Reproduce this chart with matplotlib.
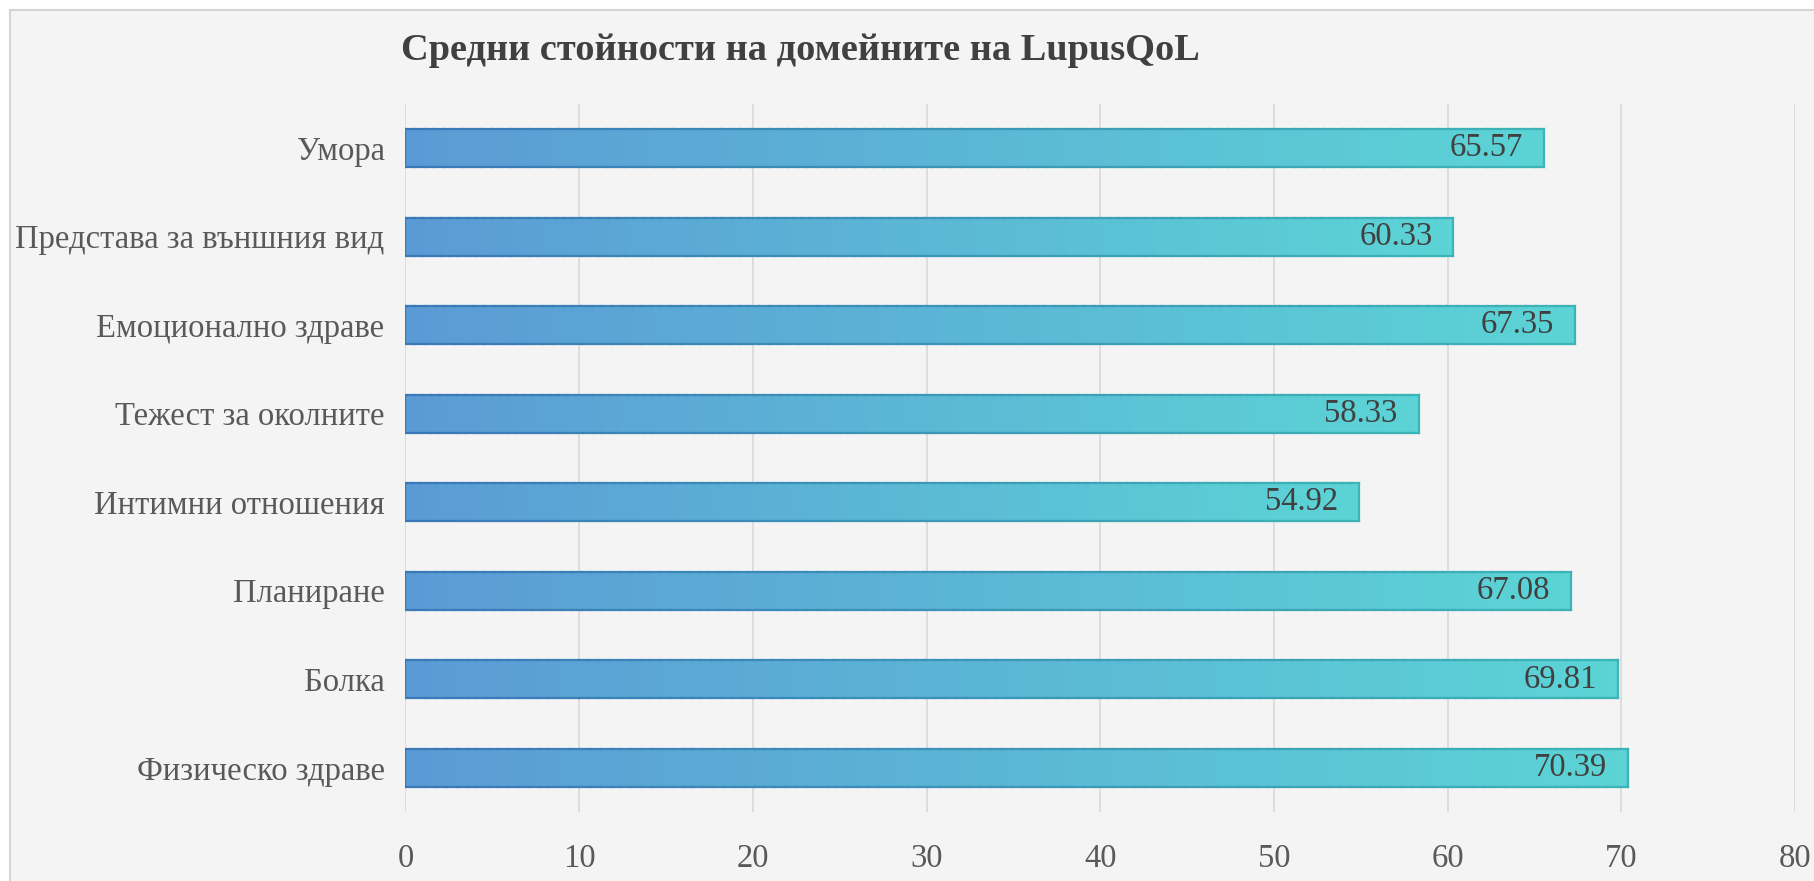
import numpy as np
import matplotlib.pyplot as plt
from matplotlib.colors import LinearSegmentedColormap
from matplotlib.collections import LineCollection
from matplotlib.patches import Rectangle

plt.rcParams['font.family'] = ['Liberation Serif', 'DejaVu Serif']

# LupusQoL domain means, bottom to top
domains = ["Физическо здраве", "Болка", "Планиране", "Интимни отношения",
           "Тежест за околните", "Емоционално здраве",
           "Представа за външния вид", "Умора"]
means = [70.39, 69.81, 67.08, 54.92, 58.33, 67.35, 60.33, 65.57]
xticks = [0, 10, 20, 30, 40, 50, 60, 70, 80]

title = "Средни стойности на домейните на LupusQoL"

# gradient fill and outline colours (left -> right)
fill_cmap = LinearSegmentedColormap.from_list("fill", ["#5b9bd5", "#5cd4d6"])
edge_cmap = LinearSegmentedColormap.from_list("edge", ["#3b78b8", "#3cb4b7"])
text_col = "#404040"
label_col = "#595959"
grid_col = "#d9d9d9"

fig = plt.figure(figsize=(18.14, 8.81), dpi=100, facecolor="white")

# light panel behind the chart
panel = Rectangle((10 / 1814, -0.05), 1.1, 1 - 10 / 881 + 0.05,
                  transform=fig.transFigure, facecolor="#f4f4f4",
                  edgecolor="#d4d4d4", linewidth=1.5, zorder=-10)
fig.patches.append(panel)

ax = fig.add_axes([0.2235, 0.0783, 0.9895 - 0.2235, 0.882 - 0.0783])
ax.set_facecolor("none")

bar_h = 0.43
ypos = np.arange(len(domains))
grad = np.linspace(0, 1, 256).reshape(1, -1)

for y, v in zip(ypos, means):
    rect = Rectangle((0, y - bar_h / 2), v, bar_h, facecolor="none",
                     edgecolor="none", zorder=2)
    ax.add_patch(rect)
    im = ax.imshow(grad, cmap=fill_cmap, aspect="auto",
                   extent=(0, v, y - bar_h / 2, y + bar_h / 2),
                   interpolation="bicubic", zorder=2)
    im.set_clip_path(rect)

    # outline with the same left-to-right shift
    xs = np.linspace(0, v, 120)
    segs = []
    cols = []
    for yy in (y - bar_h / 2, y + bar_h / 2):
        for i in range(len(xs) - 1):
            segs.append([(xs[i], yy), (xs[i + 1], yy)])
            cols.append(edge_cmap(i / (len(xs) - 2)))
    segs.append([(0, y - bar_h / 2), (0, y + bar_h / 2)])
    cols.append(edge_cmap(0.0))
    segs.append([(v, y - bar_h / 2), (v, y + bar_h / 2)])
    cols.append(edge_cmap(1.0))
    ax.add_collection(LineCollection(segs, colors=cols, linewidths=1.6,
                                     zorder=3, capstyle="projecting"))

    ax.annotate(f"{v:.2f}", xy=(v, y), xytext=(-15, 0),
                textcoords="offset points", ha="right", va="center",
                fontsize=23.5, color=text_col, zorder=4)

ax.set_xlim(0, 80)
ax.set_ylim(-0.5, len(domains) - 0.5)
ax.set_xticks(xticks)
ax.set_xticklabels([str(t) for t in xticks])
ax.set_yticks(ypos)
ax.set_yticklabels(domains)
ax.tick_params(axis="both", length=0, labelsize=23.5, labelcolor=label_col)
ax.tick_params(axis="x", pad=23)
ax.tick_params(axis="y", pad=15)
ax.grid(axis="x", color=grid_col, linewidth=1.2, zorder=0)
ax.set_axisbelow(True)
for s in ax.spines.values():
    s.set_visible(False)

fig.text(401 / 1814, 1 - 51 / 881, title, fontsize=27.6, fontweight="bold",
         color=text_col, ha="left", va="center")

fig.savefig("out.png", dpi=100, facecolor=fig.get_facecolor())
